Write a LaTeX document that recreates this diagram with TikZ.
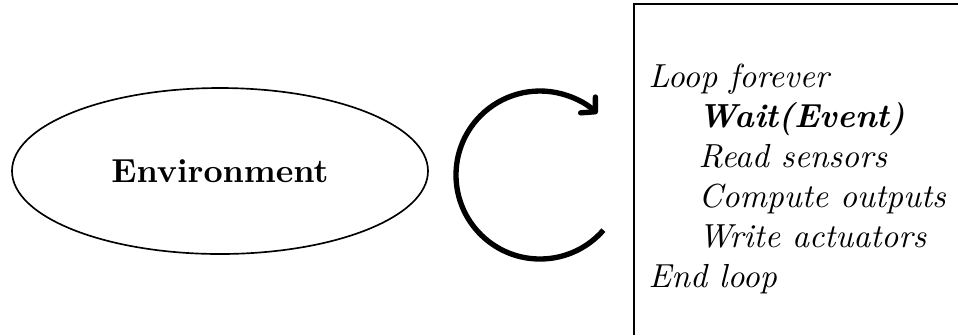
\documentclass[tikz,border=0pt]{standalone}
\usetikzlibrary{shapes.geometric,arrows.meta}
\begin{document}
\begin{tikzpicture}[x=0.3pt,y=0.3pt,
  envbox/.style={ellipse,draw,line width=0.5pt,minimum width=124.8pt,minimum height=49.8pt,inner sep=0pt,font=\bfseries},
  loopbox/.style={anchor=north west,align=left,inner sep=0pt,font=\itshape\fontsize{10}{12}\selectfont},
  cyc/.style={line width=1.6pt,-{Straight Barb[length=3pt,width=6.5pt,round]}},
  frame/.style={line width=0.6pt}]
\useasboundingbox (0,0) rectangle (958,335);
\node[envbox] (env) at (220,164) {Environment};
\coordinate (cc) at (540,160);
\draw[cyc] ([shift={(-41:84)}]cc) arc[start angle=-41,end angle=-313,radius=84];
\coordinate (ftl) at (634,331);
\coordinate (ftr) at (958,331);
\coordinate (fbl) at (634,0);
\draw[frame] (ftr) -- (ftl) -- (fbl);
\node[loopbox] (code) at (648,272) {Loop forever\\
\hspace*{15pt}\textbf{Wait(Event)}\\
\hspace*{15pt}Read sensors\\
\hspace*{15pt}Compute outputs\\
\hspace*{15pt}Write actuators\\
End loop};
\end{tikzpicture}
\end{document}
